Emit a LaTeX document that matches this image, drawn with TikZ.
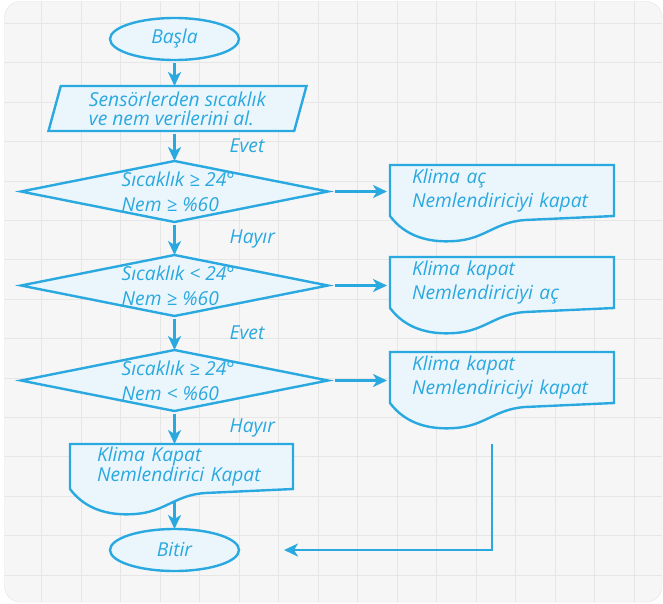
\documentclass[tikz,border=0pt]{standalone}
\usepackage{fontspec}
\setmainfont{Open Sans}
\usetikzlibrary{arrows.meta,positioning,shapes.geometric,backgrounds}
\definecolor{flowblue}{HTML}{2AA8E0}
\definecolor{flowfill}{HTML}{EBF6FC}
\definecolor{cardgray}{HTML}{F6F6F6}
\definecolor{gridgray}{HTML}{E6E6E6}
\pgfdeclarelayer{docs}
\pgfsetlayers{background,docs,main}

\begin{document}
\begin{tikzpicture}[
    x=1bp, y=1bp,
    font=\itshape\fontsize{19.3}{19}\selectfont,
    >={Stealth[length=14bp, width=13bp, inset=4bp]},
    term/.style={ellipse, draw=flowblue, fill=flowfill, line width=2.4bp, outer sep=0pt,
                 minimum width=129bp, minimum height=42bp, inner sep=0pt, text=flowblue},
    io/.style={trapezium, trapezium left angle=70, trapezium right angle=110,
               trapezium stretches body, draw=flowblue, fill=flowfill, line width=2.4bp,
               outer sep=0pt, minimum width=258bp, minimum height=45bp, inner sep=0pt,
               align=left, text=flowblue},
    test/.style={diamond, draw=flowblue, fill=flowfill, line width=2.4bp, outer sep=0pt,
                 minimum width=307bp, minimum height=61bp, inner sep=0pt},
    cond/.style={text=flowblue, align=left, inner sep=0pt, anchor=west,
                 font=\itshape\fontsize{19.3}{25}\selectfont},
    doc/.style={text=flowblue, align=left, outer sep=0pt, minimum height=51bp,
                text width=180bp, inner xsep=22bp, inner ysep=0pt,
                font=\itshape\fontsize{19.3}{25}\selectfont},
    docline/.style={draw=flowblue, fill=flowfill, line width=2.4bp},
    lbl/.style={text=flowblue, inner sep=0pt},
    flow/.style={->, draw=flowblue, line width=2.4bp, shorten <=3bp},
  ]
    % --- card with grid ---------------------------------------------------
    \begin{scope}[on background layer]
      \fill[white] (0,0) rectangle (663,-604);
      \draw[draw=gray!22, fill=cardgray, rounded corners=16bp] (4.5,-1.5) rectangle (662,-602);
      \begin{scope}
        \clip[rounded corners=16bp] (4.5,-1.5) rectangle (662,-602);
        \foreach \i in {0,...,15}
          \draw[gridgray, line width=1bp] ({41.5+39.5*\i},0) -- ++(0,-604);
        \foreach \j in {0,...,14}
          \draw[gridgray, line width=1bp] (0,{-23.5-39.4*\j}) -- ++(663,0);
      \end{scope}
    \end{scope}

    % --- main column ------------------------------------------------------
    \node[term] (start) at (174.5,-39) {Başla};
    \node[io, below=26bp of start, xshift=3bp] (read) {Sensörlerden sıcaklık\\ve nem verilerini al.};
    \node[test, below=30bp of read, xshift=-3bp] (d1) {};
    \node[test, below=33bp of d1] (d2) {};
    \node[test, below=34bp of d2] (d3) {};
    \node[doc, below=33bp of d3, xshift=7bp, text width=169bp, inner xsep=27bp,
          minimum height=45bp, font=\itshape\fontsize{19.3}{19}\selectfont] (k4)
      {Klima Kapat\\Nemlendirici Kapat};
    \node[term, below=40bp of k4, xshift=-7bp] (stop) {Bitir};

    % --- conditions -------------------------------------------------------
    \node[cond] (c1) at ([xshift=-53bp]d1.center) {Sıcaklık ≥ 24°\\Nem ≥ \%60};
    \node[cond] (c2) at ([xshift=-53bp]d2.center) {Sıcaklık < 24°\\Nem ≥ \%60};
    \node[cond] (c3) at ([xshift=-53bp]d3.center) {Sıcaklık ≥ 24°\\Nem < \%60};

    % --- outputs on the right ---------------------------------------------
    \node[doc, right=62bp of d1, yshift=1bp] (k1) {Klima aç\\Nemlendiriciyi kapat};
    \node[doc, right=62bp of d2, yshift=3bp] (k2) {Klima kapat\\Nemlendiriciyi aç};
    \node[doc, right=62bp of d3, yshift=3bp] (k3) {Klima kapat\\Nemlendiriciyi kapat};

    \begin{pgfonlayer}{docs}
      \foreach \k in {k1,k2,k3,k4}
        \draw[docline] (\k.north west) -- (\k.north east) -- (\k.south east)
          -- ([xshift=135bp,yshift=-4bp]\k.south west)
          .. controls ([xshift=105bp,yshift=-6bp]\k.south west)
                  and ([xshift=95bp,yshift=-23bp]\k.south west)
          .. ([xshift=65bp,yshift=-25bp]\k.south west)
          .. controls ([xshift=38bp,yshift=-27bp]\k.south west)
                  and ([xshift=15bp,yshift=-20bp]\k.south west)
          .. (\k.south west) -- cycle;
    \end{pgfonlayer}

    % --- arrows -----------------------------------------------------------
    \draw[flow] (start) -- (start |- read.north);
    \draw[flow] (d1 |- read.south) -- node[lbl, right=54bp] (evet1) {Evet} (d1);
    \draw[flow] (d1) -- node[lbl, right=54bp] (hayir1) {Hayır} (d2);
    \draw[flow] (d2) -- node[lbl, right=54bp] (evet2) {Evet} (d3);
    \draw[flow] (d3) -- node[lbl, right=54bp] (hayir2) {Hayır} (d3 |- k4.north);
    \draw[flow, shorten <=12bp] (stop |- k4.south) -- (stop);
    \foreach \d/\k in {d1/k1,d2/k2,d3/k3}
      \draw[flow, shorten <=7bp, shorten >=3bp] (\d.east) -- (\d.east -| \k.west);
    \draw[flow, shorten <=41bp, shorten >=45bp] ([xshift=-10bp]k3.south) |- (stop.east);
\end{tikzpicture}
\end{document}
